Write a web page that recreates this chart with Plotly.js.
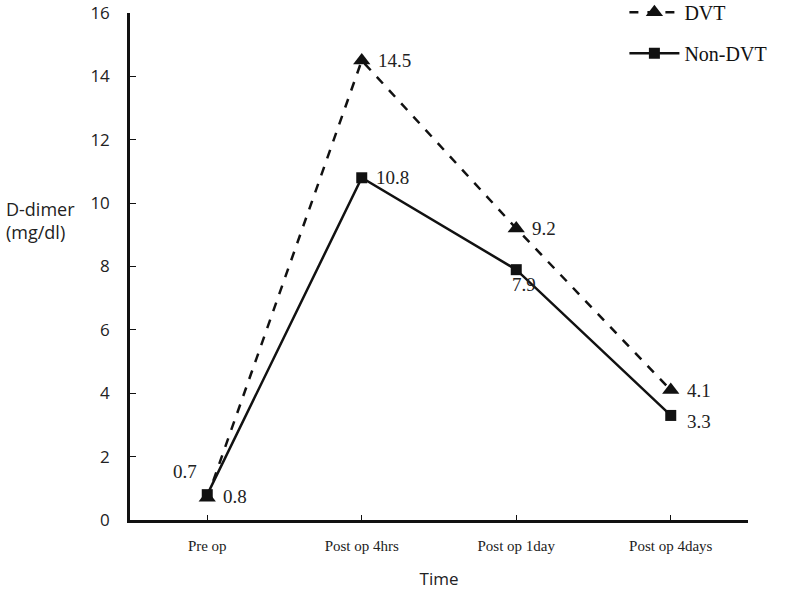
<!DOCTYPE html>
<html>
<head>
<meta charset="utf-8">
<script src="https://cdn.plot.ly/plotly-3.0.1.min.js"></script>
<style>
  html, body { margin: 0; padding: 0; background: #fff; }
  #plot { width: 787px; height: 590px; }
</style>
</head>
<body>
<div id="plot"></div>
<script>
const categories = ['Pre op', 'Post op 4hrs', 'Post op 1day', 'Post op 4days'];
const dvtValues = [0.7, 14.5, 9.2, 4.1];
const nonDvtValues = [0.8, 10.8, 7.9, 3.3];
const yTicks = [0, 2, 4, 6, 8, 10, 12, 14, 16];

const serif = 'Liberation Serif, Times New Roman, serif';
const sans = 'Open Sans, Liberation Sans, sans-serif';

// label offsets in px, per point (dx, dy)
const dvtShift = [[-36, 26], [14, 0], [14, 0], [14, 0]];
const nonDvtShift = [[14, -2], [12, 0], [-6, -15], [14, -6]];

function labels(values, shifts) {
    return values.map((v, i) => ({
        x: categories[i],
        y: v,
        text: v.toFixed(1),
        xref: 'x', yref: 'y',
        xanchor: 'left', yanchor: 'middle',
        xshift: shifts[i][0],
        yshift: shifts[i][1],
        showarrow: false,
        font: { family: serif, size: 19, color: '#222' }
    }));
}

let dvt = {
    name: 'DVT',
    x: categories,
    y: dvtValues,
    mode: 'lines+markers',
    line: { color: '#111', width: 2.5, dash: 'dash' },
    marker: { symbol: 'triangle-up', size: 15, color: '#111' },
    legendgroup: 'a',
    cliponaxis: false,
    type: 'scatter'
};

let nonDvt = {
    name: 'Non-DVT',
    x: categories,
    y: nonDvtValues,
    mode: 'lines+markers',
    line: { color: '#111', width: 2.5 },
    marker: { symbol: 'square', size: 11, color: '#111' },
    legendgroup: 'b',
    cliponaxis: false,
    type: 'scatter'
};

let layout = {
    width: 787,
    height: 590,
    margin: { l: 130, r: 39, t: 13, b: 70, autoexpand: false },
    paper_bgcolor: '#fff',
    plot_bgcolor: '#fff',
    showlegend: true,
    legend: {
        x: 0.8, y: 1.04,
        xanchor: 'left', yanchor: 'top',
        font: { family: serif, size: 20, color: '#111' },
        tracegroupgap: 12,
        traceorder: 'grouped',
        itemwidth: 50,
        bgcolor: 'rgba(0,0,0,0)'
    },
    xaxis: {
        type: 'category',
        range: [-0.5, 3.5],
        showline: true,
        linecolor: '#111',
        linewidth: 2.5,
        ticks: 'inside',
        ticklen: 5,
        tickcolor: '#111',
        showgrid: false,
        zeroline: false,
        automargin: false,
        tickfont: { family: serif, size: 15, color: '#222' },
        ticklabelstandoff: 10,
        title: { text: 'Time', font: { family: sans, size: 17, color: '#222' }, standoff: 22 }
    },
    yaxis: {
        range: [0, 16],
        tickvals: yTicks,
        showline: true,
        linecolor: '#111',
        linewidth: 2.5,
        ticks: 'inside',
        ticklen: 6,
        tickcolor: '#111',
        showgrid: false,
        zeroline: false,
        automargin: false,
        tickfont: { family: sans, size: 17, color: '#222' },
        ticklabelstandoff: 14
    },
    annotations: [{
        text: 'D-dimer<br>(mg/dl)',
        xref: 'paper', yref: 'paper',
        x: -0.145, y: 0.59,
        xanchor: 'center', yanchor: 'middle',
        showarrow: false,
        align: 'left',
        font: { family: sans, size: 18, color: '#222' }
    }].concat(labels(dvtValues, dvtShift), labels(nonDvtValues, nonDvtShift))
};

Plotly.newPlot(document.getElementById('plot'), [dvt, nonDvt], layout, { displayModeBar: false });
</script>
</body>
</html>
